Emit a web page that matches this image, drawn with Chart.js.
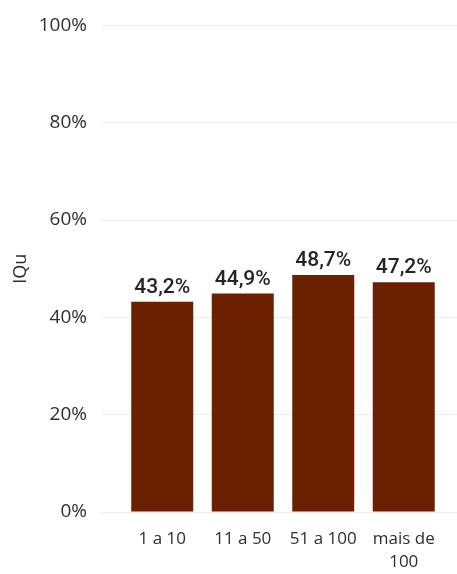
<!DOCTYPE html>
<html>
<head>
<meta charset="utf-8">
<script src="https://cdn.jsdelivr.net/npm/chart.js@4/dist/chart.umd.min.js"></script>
<style>
    html, body { margin: 0; padding: 0; background: #fff; }
    #wrap { width: 457px; height: 574px; }
</style>
</head>
<body>
<div id="wrap"><canvas id="iqu-chart"></canvas></div>
<script>
const categories = ['1 a 10', '11 a 50', '51 a 100', ['mais de', '100']];
const iquValues = [43.2, 44.9, 48.7, 47.2];
const yTicks = [0, 20, 40, 60, 80, 100];

const barColor = '#6b2100';
const gridColor = '#ececec';
const textColor = '#2f2e2d';

// value labels over each bar, e.g. "43,2%"
const valueLabels = {
    id: 'valueLabels',
    afterDatasetsDraw(chart) {
        const ctx = chart.ctx;
        const meta = chart.getDatasetMeta(0);
        ctx.save();
        ctx.font = '500 21px Roboto';
        ctx.fillStyle = '#252423';
        ctx.textAlign = 'center';
        ctx.textBaseline = 'alphabetic';
        meta.data.forEach((bar, i) => {
            const text = iquValues[i].toFixed(1).replace('.', ',') + '%';
            ctx.fillText(text, bar.x, bar.y - 9);
        });
        ctx.restore();
    }
};

const chartData = {
    labels: categories,
    datasets: [{
        label: 'IQu',
        data: iquValues,
        backgroundColor: barColor,
        borderWidth: 0,
        categoryPercentage: 1,
        barPercentage: 0.77
    }]
};

const options = {
    responsive: true,
    maintainAspectRatio: false,
    animation: false,
    layout: {
        padding: { top: 25, right: 0, bottom: 0, left: 0 }
    },
    plugins: {
        legend: { display: false },
        tooltip: { enabled: false }
    },
    scales: {
        x: {
            grid: { display: false, drawTicks: false },
            border: { display: false },
            ticks: {
                color: textColor,
                font: { family: 'Open Sans', size: 17, lineHeight: 1.35 },
                padding: 16,
                maxRotation: 0,
                autoSkip: false
            },
            afterFit(scale) { scale.height = 62; }
        },
        y: {
            min: 0,
            max: 100,
            afterBuildTicks(scale) {
                scale.ticks = yTicks.map((v) => ({ value: v }));
            },
            grid: { color: gridColor, lineWidth: 1, drawTicks: true, tickLength: 21, tickColor: gridColor },
            border: { display: false },
            ticks: {
                color: textColor,
                font: { family: 'Open Sans', size: 19 },
                padding: 14,
                callback: (v) => v + '%'
            },
            title: {
                display: true,
                text: 'IQu',
                color: textColor,
                font: { family: 'Open Sans', size: 18 },
                padding: { top: 10, bottom: 0 }
            },
            afterFit(scale) { scale.width = 122; }
        },
        yRight: {
            position: 'right',
            min: 0,
            max: 100,
            afterBuildTicks(scale) {
                scale.ticks = yTicks.map((v) => ({ value: v }));
            },
            grid: { drawOnChartArea: false, drawTicks: true, tickLength: 13, tickColor: gridColor },
            border: { display: false },
            ticks: { display: false },
            afterFit(scale) { scale.width = 13; }
        }
    }
};

const config = {
    type: 'bar',
    data: chartData,
    options: options,
    plugins: [valueLabels]
};

const chart_canvas = document.getElementById('iqu-chart');
const iqu_chart = new Chart(chart_canvas, config);
</script>
</body>
</html>
